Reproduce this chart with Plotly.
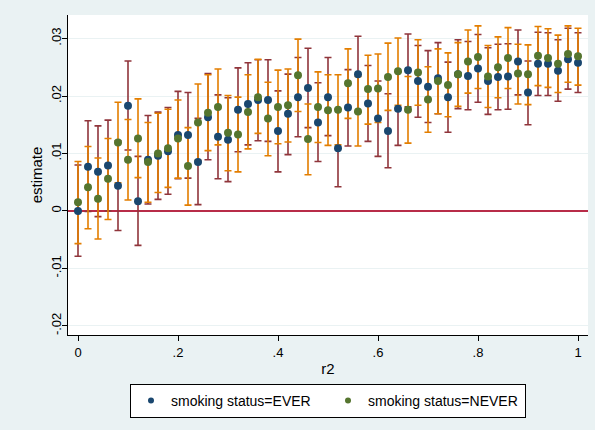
import plotly.graph_objects as go

# r2 values (x)
r2 = [0.00, 0.02, 0.04, 0.06, 0.08, 0.10, 0.12, 0.14, 0.16, 0.18,
      0.20, 0.22, 0.24, 0.26, 0.28, 0.30, 0.32, 0.34, 0.36, 0.38,
      0.40, 0.42, 0.44, 0.46, 0.48, 0.50, 0.52, 0.54, 0.56, 0.58,
      0.60, 0.62, 0.64, 0.66, 0.68, 0.70, 0.72, 0.74, 0.76, 0.78,
      0.80, 0.82, 0.84, 0.86, 0.88, 0.90, 0.92, 0.94, 0.96, 0.98, 1.00]

# smoking status = EVER
ever_est = [0.0000, 0.0077, 0.0068, 0.0079, 0.0044, 0.0183, 0.0017, 0.0089, 0.0096, 0.0104,
            0.0132, 0.0132, 0.0085, 0.0163, 0.0129, 0.0124, 0.0176, 0.0186, 0.0193, 0.0193,
            0.0139, 0.0169, 0.0198, 0.0214, 0.0154, 0.0198, 0.0109, 0.0180, 0.0238, 0.0187,
            0.0161, 0.0139, 0.0178, 0.0245, 0.0226, 0.0216, 0.0231, 0.0198, 0.0238, 0.0235,
            0.0248, 0.0226, 0.0233, 0.0234, 0.0260, 0.0206, 0.0256, 0.0256, 0.0244, 0.0264, 0.0258]
ever_lo = [-0.0079, -0.0001, -0.0010, 0.0000, -0.0034, 0.0106, -0.0060, 0.0012, 0.0020, 0.0029,
           0.0056, 0.0057, 0.0011, 0.0089, 0.0056, 0.0051, 0.0103, 0.0115, 0.0122, 0.0121,
           0.0068, 0.0098, 0.0129, 0.0145, 0.0086, 0.0131, 0.0042, 0.0113, 0.0172, 0.0121,
           0.0095, 0.0075, 0.0114, 0.0181, 0.0163, 0.0154, 0.0169, 0.0137, 0.0178, 0.0176,
           0.0189, 0.0168, 0.0176, 0.0177, 0.0202, 0.0150, 0.0201, 0.0201, 0.0191, 0.0212, 0.0206]
ever_hi = [0.0080, 0.0157, 0.0148, 0.0158, 0.0122, 0.0261, 0.0095, 0.0166, 0.0172, 0.0180,
           0.0208, 0.0206, 0.0161, 0.0239, 0.0202, 0.0197, 0.0249, 0.0258, 0.0263, 0.0263,
           0.0209, 0.0238, 0.0267, 0.0283, 0.0223, 0.0267, 0.0177, 0.0246, 0.0304, 0.0253,
           0.0226, 0.0204, 0.0242, 0.0308, 0.0288, 0.0279, 0.0293, 0.0259, 0.0298, 0.0295,
           0.0307, 0.0284, 0.0290, 0.0291, 0.0315, 0.0261, 0.0311, 0.0310, 0.0298, 0.0318, 0.0310]

# smoking status = NEVER
never_est = [0.0015, 0.0041, 0.0021, 0.0056, 0.0119, 0.0089, 0.0126, 0.0085, 0.0100, 0.0109,
             0.0126, 0.0078, 0.0154, 0.0171, 0.0181, 0.0136, 0.0133, 0.0172, 0.0198, 0.0161,
             0.0181, 0.0184, 0.0236, 0.0125, 0.0181, 0.0175, 0.0176, 0.0222, 0.0173, 0.0212,
             0.0213, 0.0233, 0.0243, 0.0176, 0.0241, 0.0194, 0.0226, 0.0219, 0.0238, 0.0260,
             0.0268, 0.0234, 0.0250, 0.0266, 0.0239, 0.0238, 0.0270, 0.0266, 0.0256, 0.0273, 0.0269]
never_lo = [-0.0057, -0.0031, -0.0049, -0.0015, 0.0049, 0.0019, 0.0058, 0.0015, 0.0032, 0.0041,
            0.0057, 0.0010, 0.0088, 0.0105, 0.0115, 0.0070, 0.0068, 0.0108, 0.0135, 0.0096,
            0.0117, 0.0120, 0.0173, 0.0063, 0.0119, 0.0114, 0.0115, 0.0161, 0.0113, 0.0151,
            0.0154, 0.0175, 0.0184, 0.0118, 0.0184, 0.0137, 0.0169, 0.0164, 0.0182, 0.0205,
            0.0213, 0.0180, 0.0197, 0.0213, 0.0186, 0.0185, 0.0218, 0.0215, 0.0206, 0.0224, 0.0219]
never_hi = [0.0086, 0.0112, 0.0092, 0.0126, 0.0189, 0.0159, 0.0195, 0.0154, 0.0170, 0.0177,
            0.0193, 0.0145, 0.0221, 0.0237, 0.0247, 0.0201, 0.0198, 0.0237, 0.0264, 0.0224,
            0.0245, 0.0247, 0.0299, 0.0186, 0.0242, 0.0237, 0.0237, 0.0282, 0.0234, 0.0271,
            0.0273, 0.0292, 0.0301, 0.0234, 0.0298, 0.0251, 0.0282, 0.0275, 0.0293, 0.0315,
            0.0322, 0.0288, 0.0303, 0.0319, 0.0290, 0.0289, 0.0321, 0.0317, 0.0306, 0.0322, 0.0318]

y_ticks = [-0.02, -0.01, 0, 0.01, 0.02, 0.03]
y_labels = ["-.02", "-.01", "0", ".01", ".02", ".03"]
x_ticks = [0, 0.2, 0.4, 0.6, 0.8, 1]
x_labels = ["0", ".2", ".4", ".6", ".8", "1"]

NAVY = "#1a476f"
GREEN = "#55752f"
MAROON = "#90353b"
ORANGE = "#e37e00"
BG = "#eaf2f3"


def err(est, lo, hi, color):
    return dict(type="data", symmetric=False,
                array=[h - e for e, h in zip(est, hi)],
                arrayminus=[e - l for e, l in zip(est, lo)],
                color=color, thickness=1.6, width=3.5)


fig = go.Figure()
fig.add_trace(go.Scatter(x=r2, y=ever_est, mode="markers",
                         marker=dict(size=1, color="rgba(0,0,0,0)"),
                         error_y=err(ever_est, ever_lo, ever_hi, MAROON),
                         showlegend=False, hoverinfo="skip"))
fig.add_trace(go.Scatter(x=r2, y=never_est, mode="markers",
                         marker=dict(size=1, color="rgba(0,0,0,0)"),
                         error_y=err(never_est, never_lo, never_hi, ORANGE),
                         showlegend=False, hoverinfo="skip"))
fig.add_trace(go.Scatter(x=r2, y=ever_est, mode="markers",
                         marker=dict(size=8, color=NAVY, line=dict(width=0)),
                         showlegend=False))
fig.add_trace(go.Scatter(x=r2, y=never_est, mode="markers",
                         marker=dict(size=8, color=GREEN, line=dict(width=0)),
                         showlegend=False))
# legend entries
fig.add_trace(go.Scatter(x=[None], y=[None], mode="markers", name="smoking status=EVER",
                         marker=dict(size=6, color=NAVY)))
fig.add_trace(go.Scatter(x=[None], y=[None], mode="markers", name="smoking status=NEVER",
                         marker=dict(size=6, color=GREEN)))

fig.update_layout(
    width=595, height=430,
    margin=dict(l=68, r=7, t=15, b=95),
    paper_bgcolor=BG, plot_bgcolor="white",
    font=dict(family="Liberation Sans, Arial, sans-serif", size=13, color="black"),
    legend=dict(orientation="h", x=0.5, xanchor="center", y=-0.153, yanchor="top",
                bgcolor="white", bordercolor="black", borderwidth=1,
                font=dict(size=14), entrywidth=152, entrywidthmode="pixels",
                itemsizing="trace"),
)
fig.update_xaxes(range=[-0.02, 1.02], tickvals=x_ticks, ticktext=x_labels,
                 automargin=False,
                 showgrid=False, zeroline=False, showline=True, linecolor="black",
                 linewidth=1, ticks="outside", ticklen=5, tickcolor="black",
                 tickfont=dict(size=13),
                 title=dict(text="r2", font=dict(size=15), standoff=4))
fig.update_yaxes(range=[-0.0216, 0.0341], tickvals=y_ticks, ticktext=y_labels,
                 automargin=False,
                 showgrid=True, gridcolor=BG, gridwidth=1,
                 zeroline=True, zerolinecolor="#b82c48", zerolinewidth=1.5,
                 showline=True, linecolor="black", linewidth=1,
                 ticks="outside", ticklen=5, tickcolor="black", tickangle=-90,
                 ticklabelstandoff=-4,
                 tickfont=dict(size=13),
                 title=dict(text="estimate", font=dict(size=15), standoff=2))

fig.write_html("out.html", config={"displayModeBar": False},
               post_script="document.body.style.margin='0';document.body.style.overflow='hidden';")
